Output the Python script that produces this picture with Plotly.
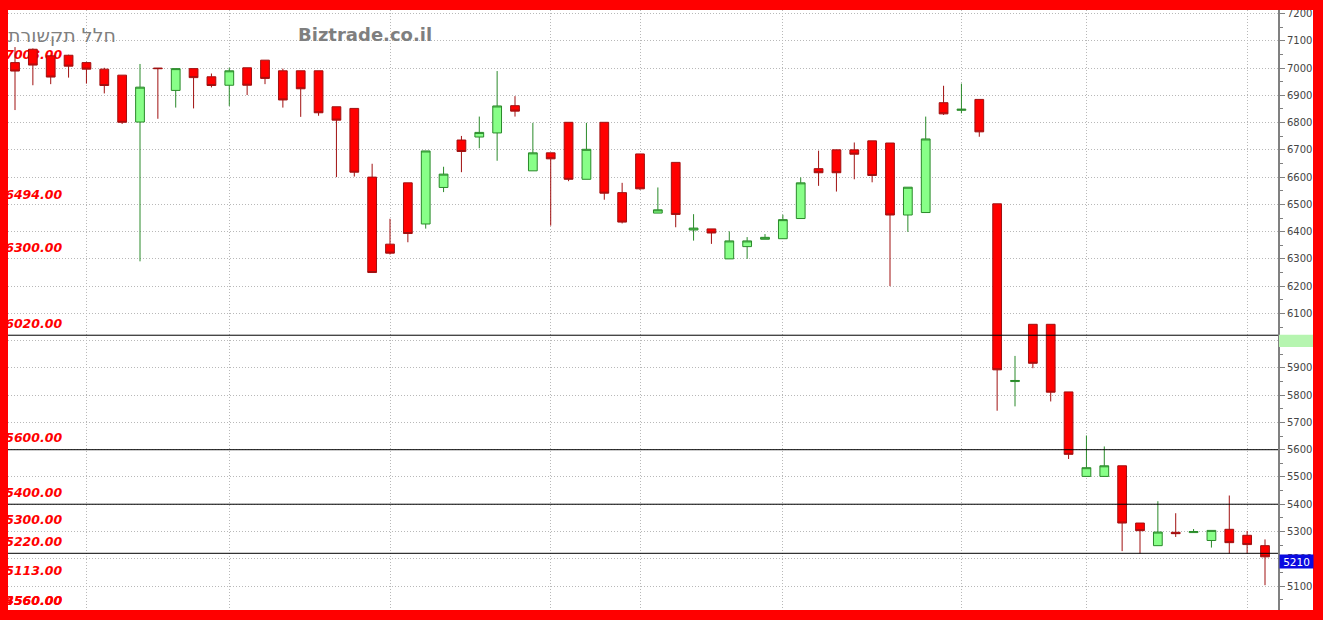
import plotly.graph_objects as go

# ---------------- data ----------------
sessions = list(range(71))

open_ = [7020, 7069, 7045, 7047, 7020, 6996, 6974, 6802, 7000, 6918,
         6998, 6968, 6937, 7001, 7029, 6990, 6990, 6990, 6858, 6852,
         6600, 6354, 6579, 6428, 6562, 6736, 6747, 6762, 6862, 6623,
         6689, 6801, 6592, 6801, 6543, 6685, 6468, 6654, 6406, 6410,
         6300, 6345, 6372, 6374, 6448, 6631, 6700, 6700, 6733, 6725,
         6461, 6470, 6873, 6845, 6885, 6502, 5850, 6060, 6060, 5812,
         5502, 5502, 5541, 5331, 5248, 5297, 5296, 5267, 5308, 5286,
         5248]
high = [7077, 7072, 7047, 7049, 7023, 7001, 6974, 7015, 7000, 6998,
        6998, 6980, 7001, 7001, 7029, 6998, 6990, 6990, 6858, 6852,
        6649, 6447, 6579, 6696, 6638, 6751, 6822, 6989, 6897, 6799,
        6689, 6801, 6799, 6801, 6579, 6685, 6562, 6654, 6464, 6410,
        6401, 6380, 6391, 6462, 6599, 6697, 6700, 6727, 6733, 6725,
        6563, 6822, 6935, 6943, 6885, 6502, 5944, 6060, 6060, 5812,
        5652, 5612, 5541, 5331, 5411, 5367, 5309, 5304, 5432, 5302,
        5271]
low = [6846, 6937, 6941, 6965, 6943, 6907, 6795, 6291, 6814, 6855,
       6852, 6929, 6861, 6901, 6941, 6855, 6821, 6825, 6600, 6602,
       6250, 6316, 6361, 6411, 6545, 6618, 6706, 6660, 6822, 6623,
       6422, 6585, 6592, 6517, 6430, 6553, 6468, 6416, 6367, 6355,
       6300, 6300, 6372, 6374, 6448, 6568, 6547, 6592, 6581, 6200,
       6399, 6470, 6828, 6834, 6748, 5743, 5759, 5899, 5777, 5566,
       5502, 5502, 5228, 5219, 5248, 5280, 5296, 5241, 5219, 5219,
       5103]
close = [6989, 7011, 6967, 7007, 6996, 6936, 6801, 6930, 6998, 6998,
         6965, 6936, 6990, 6937, 6962, 6883, 6924, 6836, 6809, 6618,
         6250, 6321, 6393, 6696, 6611, 6694, 6764, 6861, 6842, 6689,
         6667, 6592, 6702, 6541, 6435, 6557, 6480, 6463, 6413, 6395,
         6366, 6366, 6379, 6444, 6579, 6616, 6616, 6684, 6606, 6461,
         6563, 6740, 6832, 6849, 6766, 5893, 5854, 5917, 5811, 5583,
         5534, 5541, 5331, 5303, 5298, 5292, 5300, 5304, 5259, 5252,
         5207]

y_ticks = list(range(5100, 7300, 100))
grid_sessions = [4, 12, 21, 30, 35, 43, 53, 60, 69]
level_labels = [7008, 6494, 6300, 6020, 5600, 5400, 5300, 5220, 5113, 4560, 3560]
level_lines = [6020, 5600, 5400, 5220]
last_price = 5210
band_low, band_high = 5977, 6022
title_he = "חלל תקשורת"
title_site = "Biztrade.co.il"

# ---------------- geometry ----------------
W, H = 1323, 620
ML, MR, MT, MB = 8, 45, 8, 10
PW = W - ML - MR
PH = H - MT - MB
Y_RANGE = [5012, 7213]
X_RANGE = [-0.392, 70.728]
LABEL_X = -0.55
LABEL_LIFT = 15          # value units (~4 px) to lift the label text above its level
LABEL_FLOOR = 5003
GRID_COLOR = "#b8b8b8"
GRID_DASH = "1px,2px"


def px_x(px):
    return (px - ML) / PW


def px_y(py):
    return (H - MB - py) / PH


fig = go.Figure()

# level labels (drawn beneath the candles)
fig.add_trace(go.Scatter(
    x=[LABEL_X] * len(level_labels),
    y=[max(v, LABEL_FLOOR) + LABEL_LIFT for v in level_labels],
    text=["<b><i>%.2f</i></b>" % v for v in level_labels],
    mode="text", textposition="top right",
    textfont=dict(family="DejaVu Sans", size=12.5, color="#ff0000"),
    cliponaxis=True, hoverinfo="skip", showlegend=False,
    xaxis="x", yaxis="y",
))

fig.add_trace(go.Candlestick(
    x=sessions, open=open_, high=high, low=low, close=close,
    increasing=dict(fillcolor="#88ff88", line=dict(color="#2a8a2a", width=1)),
    decreasing=dict(fillcolor="#ff0000", line=dict(color="#a01010", width=1)),
    showlegend=False, xaxis="x", yaxis="y2",
))

shapes = []
for lv in level_lines:
    shapes.append(dict(type="line", xref="paper", yref="y", x0=0, x1=1, y0=lv, y1=lv,
                       line=dict(color="#000000", width=1), layer="above"))
# light-green band on the price scale
shapes.append(dict(type="rect", xref="paper", yref="y", x0=px_x(1279), x1=px_x(1313),
                   y0=band_low, y1=band_high, fillcolor="#b6f5b0", line=dict(width=0),
                   layer="above"))
# red frame
red = "#ff0000"
frame = [(0, ML, 0, H), (0, W, 0, MT), (1313, W, 0, H), (0, W, 610, H)]
for x0, x1, y0, y1 in frame:
    shapes.append(dict(type="rect", xref="paper", yref="paper",
                       x0=px_x(x0) - (0.01 if x0 == 0 else 0), x1=px_x(x1) + (0.01 if x1 == W else 0),
                       y0=px_y(y1) - (0.02 if y1 == H else 0), y1=px_y(y0) + (0.02 if y0 == 0 else 0),
                       fillcolor=red, line=dict(width=0), layer="above"))

annotations = [
    dict(xref="paper", yref="paper", x=px_x(118), y=px_y(33), xanchor="right", yanchor="middle",
         text=title_he, showarrow=False,
         font=dict(family="DejaVu Sans", size=19, color="#7f7f7f")),
    dict(xref="paper", yref="paper", x=px_x(296), y=px_y(33), xanchor="left", yanchor="middle",
         text="<b>%s</b>" % title_site, showarrow=False,
         font=dict(family="DejaVu Sans", size=18, color="#7f7f7f")),
    dict(xref="paper", yref="y", x=px_x(1279), y=last_price + 8, xanchor="left", yanchor="top",
         text=str(last_price), showarrow=False, bgcolor="#0a0ae0", width=31, height=11,
         borderpad=1, font=dict(family="DejaVu Sans", size=10.5, color="#ffffff")),
]

fig.update_layout(
    width=W, height=H, autosize=False,
    margin=dict(l=ML, r=MR, t=MT, b=MB, pad=0),
    paper_bgcolor="#ffffff", plot_bgcolor="#ffffff",
    showlegend=False, shapes=shapes, annotations=annotations,
    xaxis=dict(range=X_RANGE, tickmode="array", tickvals=grid_sessions, showticklabels=False,
               ticks="", showgrid=True, gridcolor=GRID_COLOR, griddash=GRID_DASH, gridwidth=1,
               zeroline=False, showline=False, rangeslider=dict(visible=False), fixedrange=True),
    yaxis=dict(range=Y_RANGE, side="right", tickmode="array", tickvals=y_ticks,
               ticktext=[str(v) for v in y_ticks], ticks="outside", ticklen=5,
               tickcolor="#808080", tickwidth=1, showline=True, linecolor="#808080", linewidth=2,
               showgrid=True, gridcolor=GRID_COLOR, griddash=GRID_DASH, gridwidth=1, zeroline=False,
               tickfont=dict(family="DejaVu Sans", size=10, color="#444444"),
               minor=dict(tickmode="linear", tick0=0, dtick=50, ticks="outside", ticklen=3,
                          tickcolor="#808080", showgrid=False),
               fixedrange=True),
    yaxis2=dict(range=Y_RANGE, overlaying="y", side="right", visible=False, fixedrange=True),
)

fig.write_html("out.html", config={"displayModeBar": False},
               post_script="document.body.style.margin='0';document.body.style.overflow='hidden';")
